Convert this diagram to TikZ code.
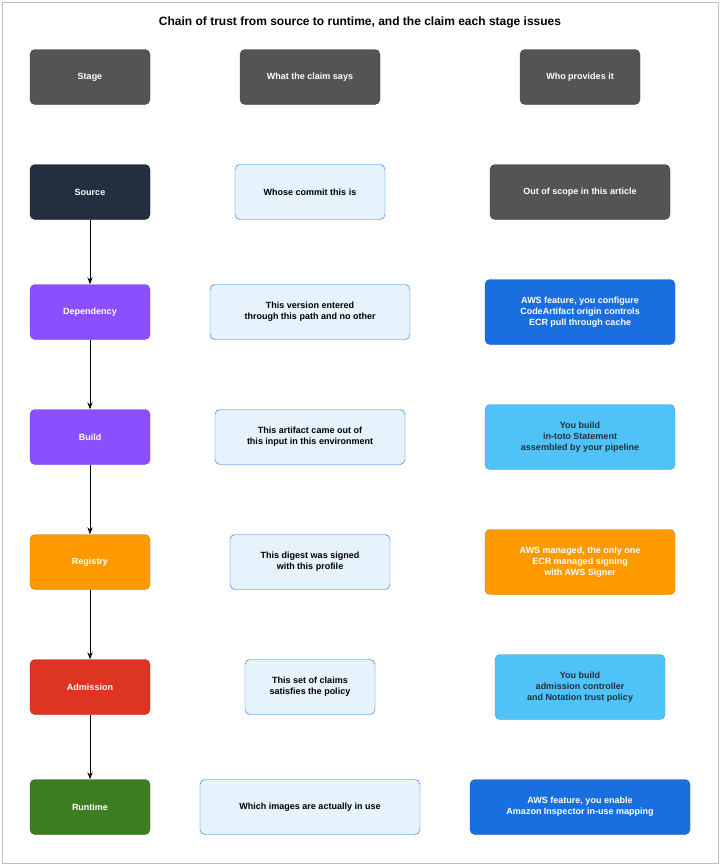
\documentclass[tikz,border=0pt]{standalone}
\usepackage{fontspec}
\setmainfont{Liberation Sans}
\usetikzlibrary{positioning,arrows.meta}
\definecolor{hdr}{HTML}{545454}
\definecolor{srccol}{HTML}{232F3E}
\definecolor{purp}{HTML}{8C4FFF}
\definecolor{orng}{HTML}{FF9900}
\definecolor{redc}{HTML}{DD3522}
\definecolor{grn}{HTML}{3D7D22}
\definecolor{paleb}{HTML}{E6F2FC}
\definecolor{paleline}{HTML}{1A73E8}
\definecolor{awsblue}{HTML}{1A6FE0}
\definecolor{skyb}{HTML}{4FC3F7}
\tikzset{
	box/.style={rounded corners=5pt, align=center, font=\fontsize{9}{11}\selectfont\bfseries, inner sep=2pt},
	dark/.style={box, fill=#1, draw=#1!80!black, text=white},
	claim/.style={box, fill=paleb, draw=paleline, text=black},
	flow/.style={-{Stealth[length=7pt]}, thick}
}
\begin{document}
\begin{tikzpicture}[x=1pt,y=-1pt]
	\useasboundingbox (0,0) rectangle (720,865);
	\draw[gray!50, fill=white] (2,2) rectangle (718,863);
	\node[font=\fontsize{12}{14}\selectfont\bfseries] (title) at (360,22) {Chain of trust from source to runtime, and the claim each stage issues};
	
	%headers
	\node[dark=hdr, minimum width=120, minimum height=55] (hstage) at (90,77)  {Stage};
	\node[dark=hdr, minimum width=140, minimum height=55] (hclaim) at (310,77) {What the claim says};
	\node[dark=hdr, minimum width=120, minimum height=55] (hwho)   at (580,77) {Who provides it};
	
	%stages
	\node[dark=srccol, minimum width=120, minimum height=55] (source)     at (90,192) {Source};
	\node[dark=purp,   minimum width=120, minimum height=55] (dependency) at (90,312) {Dependency};
	\node[dark=purp,   minimum width=120, minimum height=55] (build)      at (90,437) {Build};
	\node[dark=orng,   minimum width=120, minimum height=55] (registry)   at (90,562) {Registry};
	\node[dark=redc,   minimum width=120, minimum height=55] (admission)  at (90,687) {Admission};
	\node[dark=grn,    minimum width=120, minimum height=55] (runtime)    at (90,807) {Runtime};
	
	%claims
	\node[claim, minimum width=150, minimum height=55] (csource) at (310,192) {Whose commit this is};
	\node[claim, minimum width=200, minimum height=55] (cdep)    at (310,312) {This version entered\\through this path and no other};
	\node[claim, minimum width=190, minimum height=55] (cbuild)  at (310,437) {This artifact came out of\\this input in this environment};
	\node[claim, minimum width=160, minimum height=55] (creg)    at (310,562) {This digest was signed\\with this profile};
	\node[claim, minimum width=130, minimum height=55] (cadm)    at (310,687) {This set of claims\\satisfies the policy};
	\node[claim, minimum width=220, minimum height=55] (crun)    at (310,807) {Which images are actually in use};
	
	%providers
	\node[dark=hdr,     minimum width=180, minimum height=55] (psource) at (580,192) {Out of scope in this article};
	\node[dark=awsblue, minimum width=190, minimum height=65] (pdep)    at (580,312) {AWS feature, you configure\\CodeArtifact origin controls\\ECR pull through cache};
	\node[box, fill=skyb, draw=skyb!80!black, text=srccol, minimum width=190, minimum height=65] (pbuild) at (580,437) {You build\\in-toto Statement\\assembled by your pipeline};
	\node[dark=orng,    minimum width=190, minimum height=65] (preg)    at (580,562) {AWS managed, the only one\\ECR managed signing\\with AWS Signer};
	\node[box, fill=skyb, draw=skyb!80!black, text=srccol, minimum width=170, minimum height=65] (padm) at (580,687) {You build\\admission controller\\and Notation trust policy};
	\node[dark=awsblue, minimum width=220, minimum height=55] (prun)    at (580,807) {AWS feature, you enable\\Amazon Inspector in-use mapping};
	
	%chain
	\draw[flow] (source) -- (dependency);
	\draw[flow] (dependency) -- (build);
	\draw[flow] (build) -- (registry);
	\draw[flow] (registry) -- (admission);
	\draw[flow] (admission) -- (runtime);
\end{tikzpicture}
\end{document}
